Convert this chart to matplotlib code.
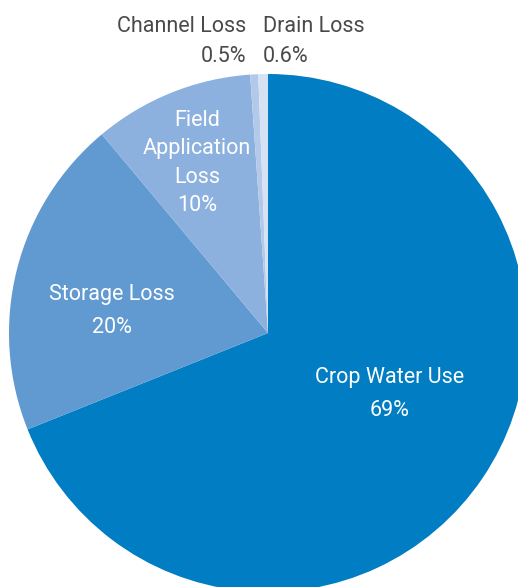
import matplotlib.pyplot as plt

plt.rcParams['font.family'] = ['Roboto', 'DejaVu Sans']

labels = ["Crop Water Use", "Storage Loss", "Field Application Loss", "Channel Loss", "Drain Loss"]
values = [69, 20, 10, 0.5, 0.6]
colors = ["#007dc3", "#6199d1", "#8cb1de", "#b3c9ea", "#d6e1f3"]

W, H = 518, 587
fig = plt.figure(figsize=(W / 100, H / 100), dpi=100)
ax = fig.add_axes([0, 0, 1, 1])

ax.pie(values, colors=colors, startangle=90, counterclock=False,
       center=(268, H - 333), radius=259, wedgeprops=dict(linewidth=0))
ax.set_xlim(0, W)
ax.set_ylim(0, H)
ax.set_aspect('equal')
ax.axis('off')

def txt(x, y, s, color='white', ha='center', ls=1.25):
    ax.text(x, H - y, s, color=color, ha=ha, va='center', fontsize=15.5, linespacing=ls)

gray = "#4a4a4a"
txt(246, 26, labels[3], gray, 'right')
txt(246, 57, f"{values[3]}%", gray, 'right')
txt(263, 26, labels[4], gray, 'left')
txt(263, 57, f"{values[4]}%", gray, 'left')

txt(197, 163, "Field\nApplication\nLoss\n10%", ls=1.45)
txt(112, 311, "Storage Loss\n20%", ls=1.7)
txt(390, 394, "Crop Water Use\n69%", ls=1.7)

fig.savefig("out.png", dpi=100)
